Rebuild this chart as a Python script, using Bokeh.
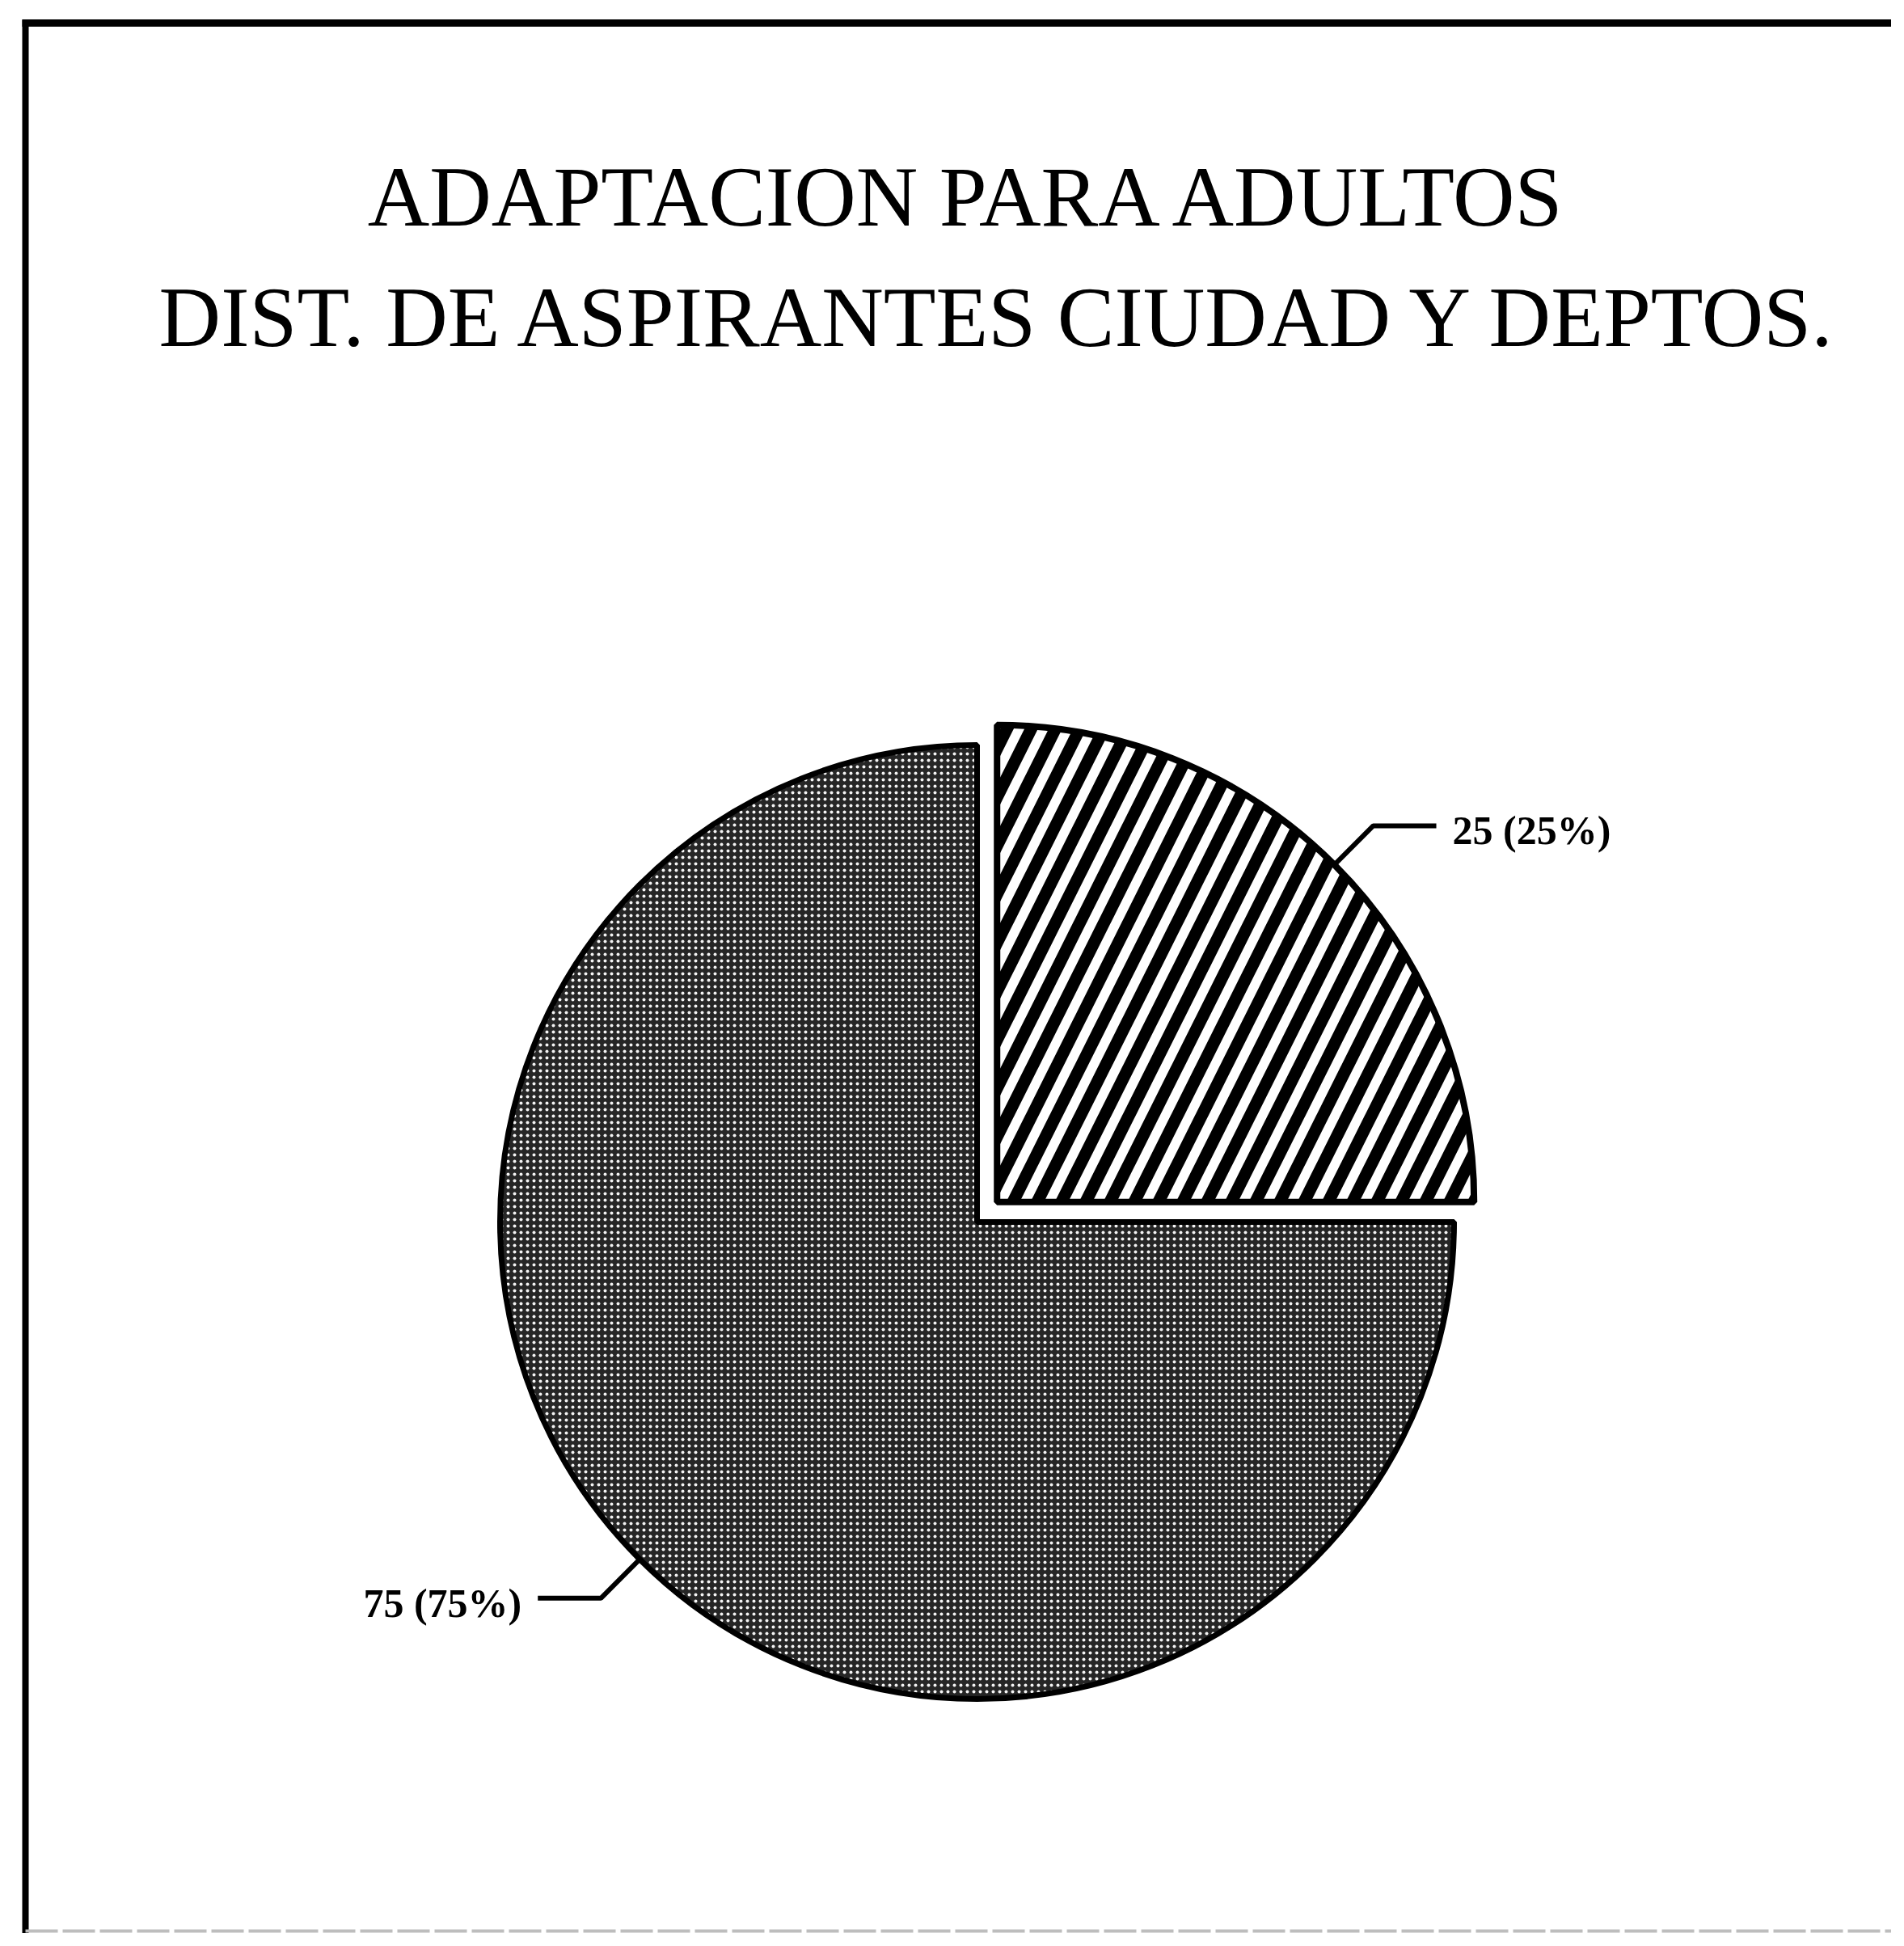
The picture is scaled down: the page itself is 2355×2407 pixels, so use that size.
import numpy as np
from bokeh.plotting import figure
from bokeh.models import Range1d
from bokeh.core.properties import value
from bokeh.embed import file_html
from bokeh.resources import INLINE

# ---- data ----
title_lines = ["ADAPTACION PARA ADULTOS", "DIST. DE ASPIRANTES CIUDAD Y DEPTOS."]
counts = [25, 75]
labels = ["25 (25%)", "75 (75%)"]

# ---- canvas: data units == screenshot pixels (y flipped) ----
W, H = 2339, 2391
PAGE_H = 2407


def sy(y):
    return PAGE_H - y


p = figure(width=W, height=H, x_range=Range1d(0, W), y_range=Range1d(PAGE_H - H, PAGE_H),
           output_backend="svg", toolbar_location=None, min_border=0)
p.axis.visible = False
p.grid.visible = False
p.outline_line_color = None
p.background_fill_color = "white"
p.border_fill_color = "white"

# frame of the scanned page
p.line(x=[31, 31], y=[sy(24), sy(2391)], line_color="black", line_width=8)
p.line(x=[27, 2339], y=[sy(28), sy(28)], line_color="black", line_width=9)
p.line(x=[31, 2339], y=[sy(2388), sy(2388)], line_color="#bdbdbd", line_width=4, line_dash="40 6")

# title
title_font = value("Liberation Serif")
p.text(x=[1199], y=[sy(243)], text=[title_lines[0]], text_font=title_font,
       text_font_size="106px", text_align="center", text_baseline="middle", text_color="black")
p.text(x=[1238], y=[sy(392)], text=[title_lines[1]], text_font=title_font,
       text_font_size="106px", text_align="center", text_baseline="middle", text_color="black")

# pie
total = float(sum(counts))
frac = np.array(counts) / total
ends = np.cumsum(frac) * 2 * np.pi
starts = ends - frac * 2 * np.pi
mids = (starts + ends) / 2
cx, cy = 1208, sy(1511)
R = 590
explode = [35, 0]
xs = [cx + e * np.cos(m) for e, m in zip(explode, mids)]
ys = [cy + e * np.sin(m) for e, m in zip(explode, mids)]

# big slice: dark speckled
p.wedge(x=xs[1], y=ys[1], radius=R, start_angle=starts[1], end_angle=ends[1],
        fill_color="#262626", line_color="black", line_width=7,
        hatch_pattern="dot", hatch_color="white", hatch_scale=8, hatch_weight=1.5, hatch_alpha=0.95)
# small slice: diagonal stripes
p.wedge(x=xs[0], y=ys[0], radius=R, start_angle=starts[0], end_angle=ends[0],
        fill_color="white", line_color="black", line_width=8,
        hatch_pattern="/", hatch_color="black", hatch_scale=60, hatch_weight=15)

# leader lines + labels
for i in range(2):
    m = mids[i]
    x0 = xs[i] + R * np.cos(m)
    y0 = ys[i] + R * np.sin(m)
    x1 = x0 + 68 * np.cos(m)
    y1 = y0 + 68 * np.sin(m)
    side = 1 if np.cos(m) >= 0 else -1
    x2 = x1 + side * 78
    p.line(x=[x0, x1, x2], y=[y0, y1, y1], line_color="black", line_width=6)
    p.text(x=[x2 + side * 20], y=[y1 - 6], text=[labels[i]],
           text_font=value("Liberation Serif"), text_font_size="50px",
           text_font_style="bold", text_align="left" if side > 0 else "right",
           text_baseline="middle", text_color="black")

open("out.html", "w").write(file_html(p, INLINE))
